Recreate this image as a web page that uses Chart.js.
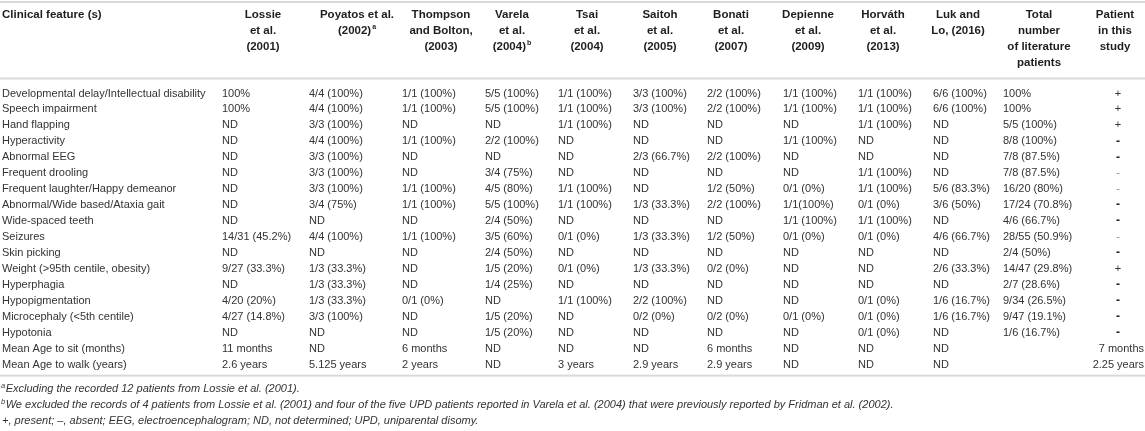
<!DOCTYPE html>
<html>
<head>
<meta charset="utf-8">
<script src="https://cdn.jsdelivr.net/npm/chart.js@4.4.1/dist/chart.umd.min.js"></script>
<style>
html,body{margin:0;padding:0;background:#fff;}
#wrap{width:1145px;height:431px;}
</style>
</head>
<body>
<div id="wrap"><canvas id="c" width="1145" height="431"></canvas></div>
<script>
// ---------- DATA ----------
const features = [
  "Developmental delay/Intellectual disability",
  "Speech impairment",
  "Hand flapping",
  "Hyperactivity",
  "Abnormal EEG",
  "Frequent drooling",
  "Frequent laughter/Happy demeanor",
  "Abnormal/Wide based/Ataxia gait",
  "Wide-spaced teeth",
  "Seizures",
  "Skin picking",
  "Weight (>95th centile, obesity)",
  "Hyperphagia",
  "Hypopigmentation",
  "Microcephaly (<5th centile)",
  "Hypotonia",
  "Mean Age to sit (months)",
  "Mean Age to walk (years)"
];
const firstHeader = "Clinical feature (s)";
const columnHeaders = [
  ["Lossie", "et al.", "(2001)"],
  ["Poyatos et al.", "(2002)^a"],
  ["Thompson", "and Bolton,", "(2003)"],
  ["Varela", "et al.", "(2004)^b"],
  ["Tsai", "et al.", "(2004)"],
  ["Saitoh", "et al.", "(2005)"],
  ["Bonati", "et al.", "(2007)"],
  ["Depienne", "et al.", "(2009)"],
  ["Horváth", "et al.", "(2013)"],
  ["Luk and", "Lo, (2016)"],
  ["Total", "number", "of literature", "patients"],
  ["Patient", "in this", "study"]
];
const lossie = ["100%","100%","ND","ND","ND","ND","ND","ND","ND","14/31 (45.2%)","ND","9/27 (33.3%)","ND","4/20 (20%)","4/27 (14.8%)","ND","11 months","2.6 years"];
const poyatos = ["4/4 (100%)","4/4 (100%)","3/3 (100%)","4/4 (100%)","3/3 (100%)","3/3 (100%)","3/3 (100%)","3/4 (75%)","ND","4/4 (100%)","ND","1/3 (33.3%)","1/3 (33.3%)","1/3 (33.3%)","3/3 (100%)","ND","ND","5.125 years"];
const thompson = ["1/1 (100%)","1/1 (100%)","ND","1/1 (100%)","ND","ND","1/1 (100%)","1/1 (100%)","ND","1/1 (100%)","ND","ND","ND","0/1 (0%)","ND","ND","6 months","2 years"];
const varela = ["5/5 (100%)","5/5 (100%)","ND","2/2 (100%)","ND","3/4 (75%)","4/5 (80%)","5/5 (100%)","2/4 (50%)","3/5 (60%)","2/4 (50%)","1/5 (20%)","1/4 (25%)","ND","1/5 (20%)","1/5 (20%)","ND","ND"];
const tsai = ["1/1 (100%)","1/1 (100%)","1/1 (100%)","ND","ND","ND","1/1 (100%)","1/1 (100%)","ND","0/1 (0%)","ND","0/1 (0%)","ND","1/1 (100%)","ND","ND","ND","3 years"];
const saitoh = ["3/3 (100%)","3/3 (100%)","ND","ND","2/3 (66.7%)","ND","ND","1/3 (33.3%)","ND","1/3 (33.3%)","ND","1/3 (33.3%)","ND","2/2 (100%)","0/2 (0%)","ND","ND","2.9 years"];
const bonati = ["2/2 (100%)","2/2 (100%)","ND","ND","2/2 (100%)","ND","1/2 (50%)","2/2 (100%)","ND","1/2 (50%)","ND","0/2 (0%)","ND","ND","0/2 (0%)","ND","6 months","2.9 years"];
const depienne = ["1/1 (100%)","1/1 (100%)","ND","1/1 (100%)","ND","ND","0/1 (0%)","1/1(100%)","1/1 (100%)","0/1 (0%)","ND","ND","ND","ND","0/1 (0%)","ND","ND","ND"];
const horvath = ["1/1 (100%)","1/1 (100%)","1/1 (100%)","ND","ND","1/1 (100%)","1/1 (100%)","0/1 (0%)","1/1 (100%)","0/1 (0%)","ND","ND","ND","0/1 (0%)","0/1 (0%)","0/1 (0%)","ND","ND"];
const luk = ["6/6 (100%)","6/6 (100%)","ND","ND","ND","ND","5/6 (83.3%)","3/6 (50%)","ND","4/6 (66.7%)","ND","2/6 (33.3%)","ND","1/6 (16.7%)","1/6 (16.7%)","ND","ND","ND"];
const total = ["100%","100%","5/5 (100%)","8/8 (100%)","7/8 (87.5%)","7/8 (87.5%)","16/20 (80%)","17/24 (70.8%)","4/6 (66.7%)","28/55 (50.9%)","2/4 (50%)","14/47 (29.8%)","2/7 (28.6%)","9/34 (26.5%)","9/47 (19.1%)","1/6 (16.7%)","",""];
const patient = ["+","+","+","-","-","-","-","-","-","-","-","+","-","-","-","-","7 months","2.25 years"];
const footnotes = [
  ["a", "Excluding the recorded 12 patients from Lossie et al. (2001)."],
  ["b", "We excluded the records of 4 patients from Lossie et al. (2001) and four of the five UPD patients reported in Varela et al. (2004) that were previously reported by Fridman et al. (2002)."],
  ["", "+, present; \u2013, absent; EEG, electroencephalogram; ND, not determined; UPD, uniparental disomy."]
];

// ---------- LAYOUT / STYLE ----------
const dataColumns = [lossie, poyatos, thompson, varela, tsai, saitoh, bonati, depienne, horvath, luk, total, patient];
const colLeft = [222, 309, 402, 485, 558, 633, 707, 783, 858, 933, 1003, 1144];
const headCenter = [263, 357, 441, 512, 587, 660, 731, 808, 883, 958, 1039, 1115];
const patientSymbolCenter = 1118;
const lightMinusRows = [5, 6, 9];
const FONT = "'Liberation Sans', Arial, Helvetica, sans-serif";

const tablePlugin = {
  id: 'tablePlugin',
  afterDraw(chart) {
    const ctx = chart.ctx;
    const xs = chart.scales.x, ys = chart.scales.y;
    const area = chart.chartArea;
    const X = v => xs.getPixelForValue(v);
    ctx.save();
    // rules
    ctx.fillStyle = '#d9d9d9';
    ctx.fillRect(X(0), 1, X(1145) - X(0), 2);
    ctx.fillRect(X(0), area.top - 8, X(1145) - X(0), 2);
    ctx.fillRect(X(0), area.bottom + 2, X(1145) - X(0), 2);

    // header
    ctx.textBaseline = 'middle';
    const hFont = "bold 11.5px " + FONT;
    const supFont = "bold 7px " + FONT;
    const headY = i => 15 + i * 16.1;
    ctx.fillStyle = '#1e1e1e';
    ctx.font = hFont;
    ctx.textAlign = 'left';
    ctx.fillText(firstHeader, X(2), headY(0));
    columnHeaders.forEach((lines, c) => {
      lines.forEach((ln, i) => {
        const parts = ln.split('^');
        ctx.font = hFont;
        const w1 = ctx.measureText(parts[0]).width;
        let w2 = 0;
        if (parts[1]) { ctx.font = supFont; w2 = ctx.measureText(parts[1]).width + 1; }
        const x0 = X(headCenter[c]) - (w1 + w2) / 2;
        ctx.font = hFont;
        ctx.textAlign = 'left';
        ctx.fillText(parts[0], x0, headY(i));
        if (parts[1]) {
          ctx.font = supFont;
          ctx.fillText(parts[1], x0 + w1 + 1, headY(i) - 4);
        }
      });
    });

    // body
    const bFont = "11px " + FONT;
    features.forEach((f, r) => {
      const y = ys.getPixelForValue(r);
      ctx.font = bFont;
      ctx.fillStyle = '#333';
      ctx.textAlign = 'left';
      ctx.fillText(f, X(2), y);
      dataColumns.forEach((col, c) => {
        const v = col[r];
        if (!v) return;
        if (col === patient) {
          if (v === '+' || v === '-') {
            ctx.textAlign = 'center';
            if (v === '-') {
              const light = lightMinusRows.includes(r);
              ctx.font = (light ? "11px " : "bold 12px ") + FONT;
              ctx.fillStyle = light ? '#888' : '#222';
            } else {
              ctx.font = bFont; ctx.fillStyle = '#333';
            }
            ctx.fillText(v, X(patientSymbolCenter), y);
          } else {
            ctx.font = bFont; ctx.fillStyle = '#333';
            ctx.textAlign = 'right';
            ctx.fillText(v, X(colLeft[c]), y);
          }
        } else {
          ctx.font = bFont; ctx.fillStyle = '#333';
          ctx.textAlign = 'left';
          ctx.fillText(v, X(colLeft[c]), y);
        }
      });
    });

    // footnotes
    const fFont = "italic 11px " + FONT;
    const fSup = "italic 7.5px " + FONT;
    footnotes.forEach((fn, i) => {
      const y = area.bottom + 16.5 + i * 16;
      ctx.fillStyle = '#333';
      ctx.textAlign = 'left';
      let x = X(2);
      if (fn[0]) {
        ctx.font = fSup;
        ctx.fillText(fn[0], X(1), y - 3);
        x = X(1) + ctx.measureText(fn[0]).width + 0.5;
      }
      ctx.font = fFont;
      ctx.fillText(fn[1], x, y);
    });
    ctx.restore();
  }
};

new Chart(document.getElementById('c'), {
  type: 'scatter',
  data: { labels: features, datasets: [] },
  options: {
    responsive: false,
    animation: false,
    devicePixelRatio: 1,
    layout: { padding: { top: 85.5, bottom: 58.4, left: 0, right: 0 } },
    plugins: { legend: { display: false }, tooltip: { enabled: false } },
    scales: {
      x: { type: 'linear', min: 0, max: 1145, display: false },
      y: { type: 'category', labels: features, offset: true, display: false }
    }
  },
  plugins: [tablePlugin]
});
</script>
</body>
</html>
